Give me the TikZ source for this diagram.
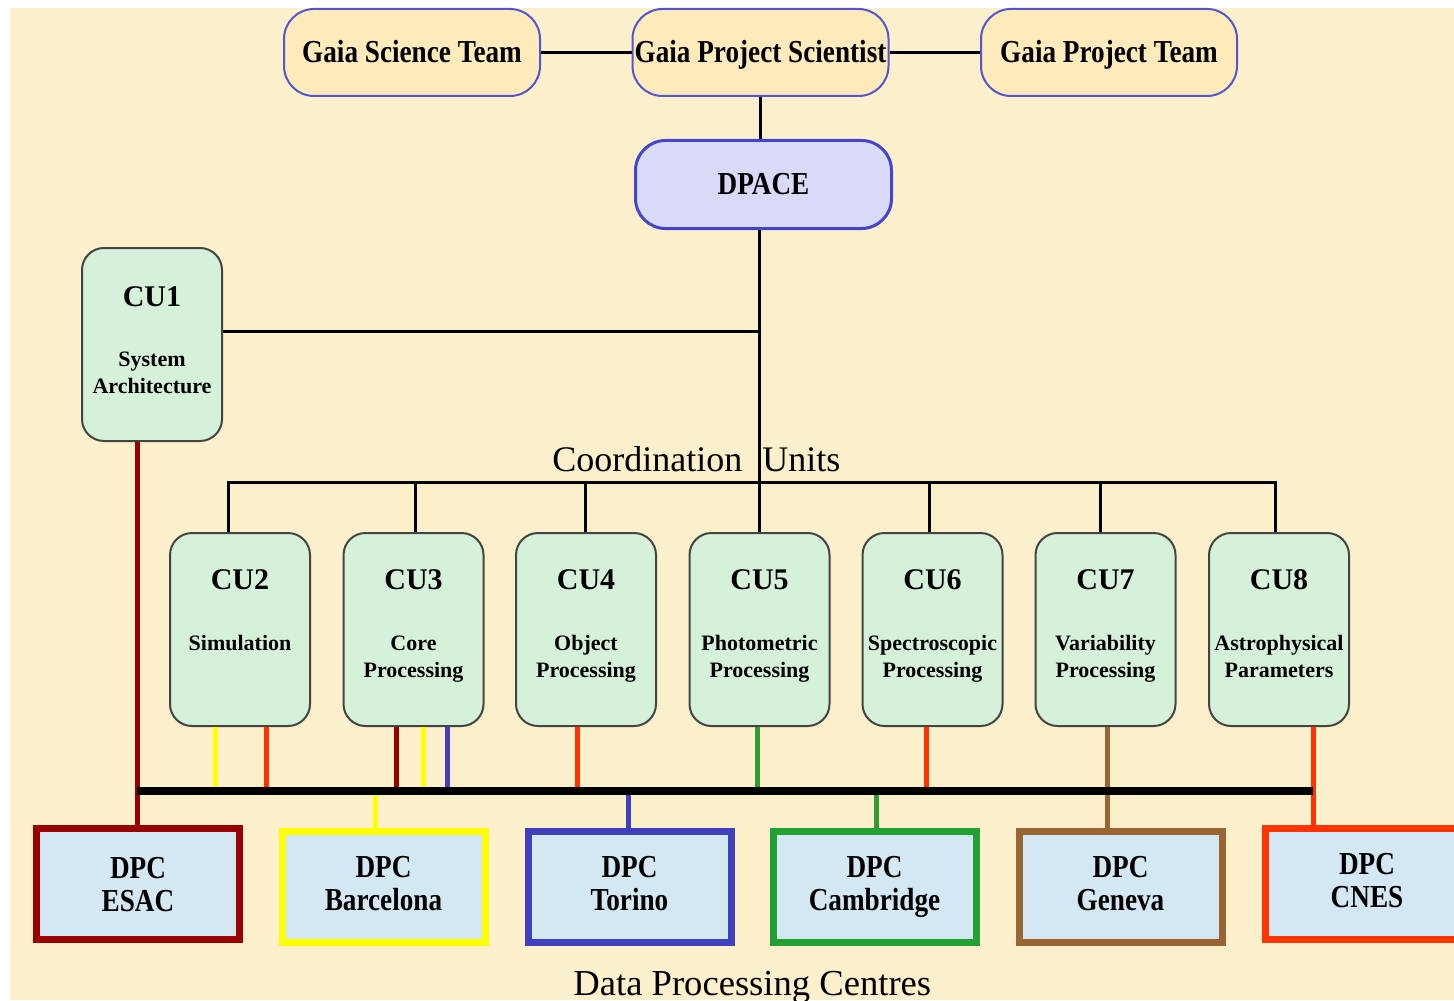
\documentclass[tikz,border=0pt]{standalone}
\usepackage{fontspec}
\setmainfont{Liberation Serif}
\newfontfamily\cond{Liberation Serif}[FakeStretch=0.85]
\newcommand\topstrut{\rule[-5.4pt]{0pt}{21pt}}
\newcommand\esacstrut{\rule{0pt}{15.5pt}}
\definecolor{bgc}{HTML}{FCEFCB}
\definecolor{topf}{HTML}{FEEABB}
\definecolor{topb}{HTML}{5555D0}
\definecolor{dpf}{HTML}{D9D9F8}
\definecolor{dpb}{HTML}{4444CC}
\definecolor{cuf}{HTML}{D6F1D9}
\definecolor{cub}{HTML}{444444}
\definecolor{dpcf}{HTML}{D3E8F3}
\definecolor{dred}{HTML}{990000}
\definecolor{yel}{HTML}{FFFF00}
\definecolor{blu}{HTML}{4040BF}
\definecolor{grn}{HTML}{22A030}
\definecolor{grnl}{HTML}{339933}
\definecolor{brn}{HTML}{996633}
\definecolor{rd}{HTML}{FF3300}
\begin{document}
\begin{tikzpicture}[x=0.5pt,y=-0.5pt,
  topbox/.style={draw=topb, line width=1pt, fill=topf, rounded corners=15pt,
    minimum width=128pt, minimum height=43.5pt, inner sep=0pt,
    font=\cond\bfseries\fontsize{16}{18}\selectfont},
  dpacebox/.style={draw=dpb, line width=1.5pt, fill=dpf, rounded corners=15pt,
    minimum width=128pt, minimum height=44pt, inner sep=0pt,
    font=\cond\bfseries\fontsize{16}{18}\selectfont},
  cubox/.style={draw=cub, line width=1pt, fill=cuf, rounded corners=11pt,
    minimum width=70pt, minimum height=96.5pt, inner sep=0pt},
  cutitle/.style={anchor=base, inner sep=0pt, font=\bfseries\fontsize{15}{17}\selectfont},
  cusub/.style={anchor=base, inner sep=0pt, font=\bfseries\fontsize{11}{13}\selectfont},
  dpcbox/.style={line width=3.5pt, fill=dpcf, minimum width=101.5pt, minimum height=55.5pt,
    inner sep=0pt, align=center, font=\cond\bfseries\fontsize{16}{16.5}\selectfont},
  conn/.style={line width=1.5pt, black},
  busline/.style={line width=4pt, black},
  clr/.style={line width=2.5pt}]
\useasboundingbox (0,0) rectangle (1454,1000);
\clip (0,0) rectangle (1454,1000);
\fill[white] (0,0) rectangle (1454,1000);
\fill[bgc] (10,8) rectangle (1454,1000);

% top row
\node[topbox] (gst) at (412,52.5) {\topstrut Gaia Science Team};
\node[topbox] (gps) at (760.5,52.5) {\topstrut Gaia Project Scientist};
\node[topbox] (gpt) at (1109,52.5) {\topstrut Gaia Project Team};
\node[dpacebox] (dpace) at (763.5,184.5) {\topstrut DPACE};

% CU boxes
\node[cubox] (cu1) at (152,344.5) {};
\node[cutitle] (cu1t) at (152,306) {CU1};
\node[cusub] (cu1a) at (152,366) {System};
\node[cusub] (cu1b) at (152,393) {Architecture};

\node[cubox] (cu2) at (240,629.5) {};
\node[cutitle] (cu2t) at (240,589) {CU2};
\node[cusub] (cu2a) at (240,650) {Simulation};

\node[cubox] (cu3) at (413.5,629.5) {};
\node[cutitle] (cu3t) at (413.5,589) {CU3};
\node[cusub] (cu3a) at (413.5,650) {Core};
\node[cusub] (cu3b) at (413.5,677) {Processing};

\node[cubox] (cu4) at (586,629.5) {};
\node[cutitle] (cu4t) at (586,589) {CU4};
\node[cusub] (cu4a) at (586,650) {Object};
\node[cusub] (cu4b) at (586,677) {Processing};

\node[cubox] (cu5) at (759.5,629.5) {};
\node[cutitle] (cu5t) at (759.5,589) {CU5};
\node[cusub] (cu5a) at (759.5,650) {Photometric};
\node[cusub] (cu5b) at (759.5,677) {Processing};

\node[cubox] (cu6) at (932.5,629.5) {};
\node[cutitle] (cu6t) at (932.5,589) {CU6};
\node[cusub] (cu6a) at (932.5,650) {Spectroscopic};
\node[cusub] (cu6b) at (932.5,677) {Processing};

\node[cubox] (cu7) at (1105.5,629.5) {};
\node[cutitle] (cu7t) at (1105.5,589) {CU7};
\node[cusub] (cu7a) at (1105.5,650) {Variability};
\node[cusub] (cu7b) at (1105.5,677) {Processing};

\node[cubox] (cu8) at (1279,629.5) {};
\node[cutitle] (cu8t) at (1279,589) {CU8};
\node[cusub] (cu8a) at (1279,650) {Astrophysical};
\node[cusub] (cu8b) at (1279,677) {Parameters};

% DPC boxes
\node[dpcbox, draw=dred] (esac) at (138,884) {\esacstrut DPC\\\strut ESAC};
\node[dpcbox, draw=yel] (barcelona) at (383.5,887) {\strut DPC\\\strut Barcelona};
\node[dpcbox, draw=blu] (torino) at (629.5,887) {\strut DPC\\\strut Torino};
\node[dpcbox, draw=grn] (cambridge) at (874.5,887) {\strut DPC\\\strut Cambridge};
\node[dpcbox, draw=brn] (geneva) at (1120.5,887) {\strut DPC\\\strut Geneva};
\node[dpcbox, draw=rd] (cnes) at (1367,884) {\strut DPC\\\strut CNES};

% labels
\node[anchor=base west, inner sep=0pt, font=\fontsize{18}{20}\selectfont] (culbl) at (552,471) {Coordination\hspace{10pt}Units};
\node[anchor=base west, inner sep=0pt, font=\fontsize{18.3}{20}\selectfont] (dpclbl) at (573,995) {Data Processing Centres};

% management connectors
\draw[conn] (gst) -- (gps);
\draw[conn] (gps) -- (gpt);
\draw[conn] (gps.south) -- (gps.south |- dpace.north);
\draw[conn] (cu5.north |- dpace.south) -- (cu5.north);
\coordinate (j1) at (759.5,331);
\draw[conn] (cu1.east |- j1) -- (j1);

% CU bus
\coordinate (cb2) at (228,482);
\coordinate (cb3) at (415,482);
\coordinate (cb4) at (585,482);
\coordinate (cb6) at (929,482);
\coordinate (cb7) at (1100,482);
\coordinate (cb8) at (1275,482);
\draw[conn] (cb2 |- cu2.north) -- (cb2) -- (cb8) -- (cb8 |- cu8.north);
\draw[conn] (cb3) -- (cb3 |- cu3.north);
\draw[conn] (cb4) -- (cb4 |- cu4.north);
\draw[conn] (cb6) -- (cb6 |- cu6.north);
\draw[conn] (cb7) -- (cb7 |- cu7.north);

% coloured links
\coordinate (busL) at (137,791);
\coordinate (busR) at (1313,791);
\draw[clr, dred] ([xshift=-7.5pt]cu1.south) -- ([xshift=-7.5pt]cu1.south |- esac.north);
\draw[clr, yel] ([xshift=-12.5pt]cu2.south) -- ([xshift=-12.5pt]cu2.south |- busL);
\draw[clr, rd] ([xshift=13pt]cu2.south) -- ([xshift=13pt]cu2.south |- busL);
\draw[clr, dred] ([xshift=-8.75pt]cu3.south) -- ([xshift=-8.75pt]cu3.south |- busL);
\draw[clr, yel] ([xshift=4.75pt]cu3.south) -- ([xshift=4.75pt]cu3.south |- busL);
\draw[clr, blu] ([xshift=16.75pt]cu3.south) -- ([xshift=16.75pt]cu3.south |- busL);
\draw[clr, rd] ([xshift=-4.5pt]cu4.south) -- ([xshift=-4.5pt]cu4.south |- busL);
\draw[clr, grnl] ([xshift=-1.25pt]cu5.south) -- ([xshift=-1.25pt]cu5.south |- busL);
\draw[clr, rd] ([xshift=-3.25pt]cu6.south) -- ([xshift=-3.25pt]cu6.south |- busL);
\draw[clr, brn] ([xshift=0.75pt]cu7.south) -- ([xshift=0.75pt]cu7.south |- geneva.north);
\draw[clr, rd] ([xshift=17pt]cu8.south) -- ([xshift=17pt]cu8.south |- cnes.north);
\draw[clr, yel] ([xshift=-4.25pt]barcelona.north |- busL) -- ([xshift=-4.25pt]barcelona.north);
\draw[clr, blu] ([xshift=-0.75pt]torino.north |- busL) -- ([xshift=-0.75pt]torino.north);
\draw[clr, grnl] ([xshift=0.75pt]cambridge.north |- busL) -- ([xshift=0.75pt]cambridge.north);

% DPC bus
\draw[busline] (busL) -- (busR);
\end{tikzpicture}
\end{document}
